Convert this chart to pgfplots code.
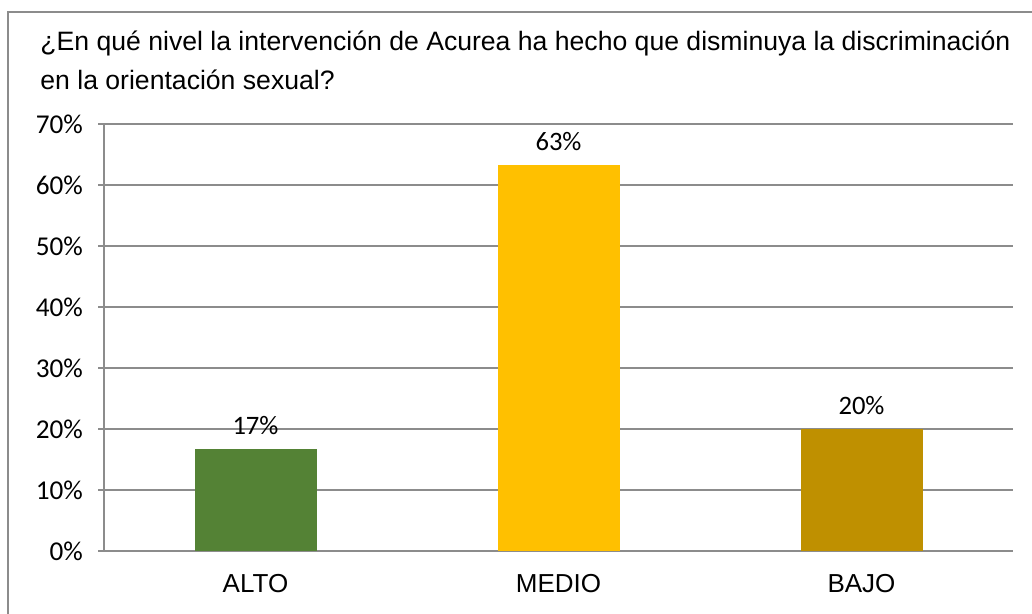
\documentclass[border=0pt]{standalone}
\usepackage{pgfplots}
\pgfplotsset{compat=1.18}
\usepackage{fontspec}
\setmainfont{Carlito}
\newfontfamily\titlefont{Liberation Sans}
\definecolor{cgreen}{HTML}{548235}
\definecolor{cyellow}{HTML}{FFC000}
\definecolor{cgold}{HTML}{BF9000}
\definecolor{cgrid}{HTML}{8C8C8C}
\begin{document}
\begin{tikzpicture}
\useasboundingbox (0,0) rectangle (516pt,307pt);
\draw[cgrid, line width=0.6pt] (4pt,-2pt) -- (4pt,301pt) -- (520pt,301pt);
\node[anchor=base west, inner sep=0pt, font=\titlefont\fontsize{13.3}{15}\selectfont] at (20pt,281.5pt) {¿En qué nivel la intervención de Acurea ha hecho que disminuya la discriminación};
\node[anchor=base west, inner sep=0pt, font=\titlefont\fontsize{13.3}{15}\selectfont] at (20pt,262pt) {en la orientación sexual?};
\begin{axis}[
  at={(52pt,31.5pt)}, anchor=south west,
  scale only axis, width=454.5pt, height=213.5pt,
  xmin=-0.5, xmax=2.5, ymin=0, ymax=70,
  axis x line=bottom, axis y line=left,
  axis line style={cgrid, line width=0.6pt, -},
  ytick={0,10,...,70},
  yticklabels={0\%,10\%,20\%,30\%,40\%,50\%,60\%,70\%},
  ymajorgrids, grid style={cgrid, line width=0.6pt},
  ytick style={cgrid, line width=0.6pt},
  tick align=outside, major tick length=3pt,
  xtick={0,1,2}, xticklabels={ALTO,MEDIO,BAJO},
  xtick style={draw=none},
  minor xtick={-0.5,0.5,1.5,2.5},
  minor tick length=3.5pt,
  minor x tick style={cgrid, line width=0.6pt},
  yticklabel style={font=\fontsize{13.6}{15}\selectfont, xshift=-4pt},
  xticklabel style={font=\titlefont\fontsize{13}{15}\selectfont, yshift=-5pt},
  /pgf/number format/assume math mode=true,
  ybar, bar width=61pt, bar shift=0pt,
  point meta=explicit symbolic,
  nodes near coords,
  every node near coord/.append style={font=\fontsize{13.3}{15}\selectfont, yshift=3.5pt, text=black},
]
\addplot[fill=cgreen, draw=none] coordinates {(0,16.7) [17\%]};
\addplot[fill=cyellow, draw=none] coordinates {(1,63.3) [63\%]};
\addplot[fill=cgold, draw=none] coordinates {(2,20.0) [20\%]};
\end{axis}
\end{tikzpicture}
\end{document}
